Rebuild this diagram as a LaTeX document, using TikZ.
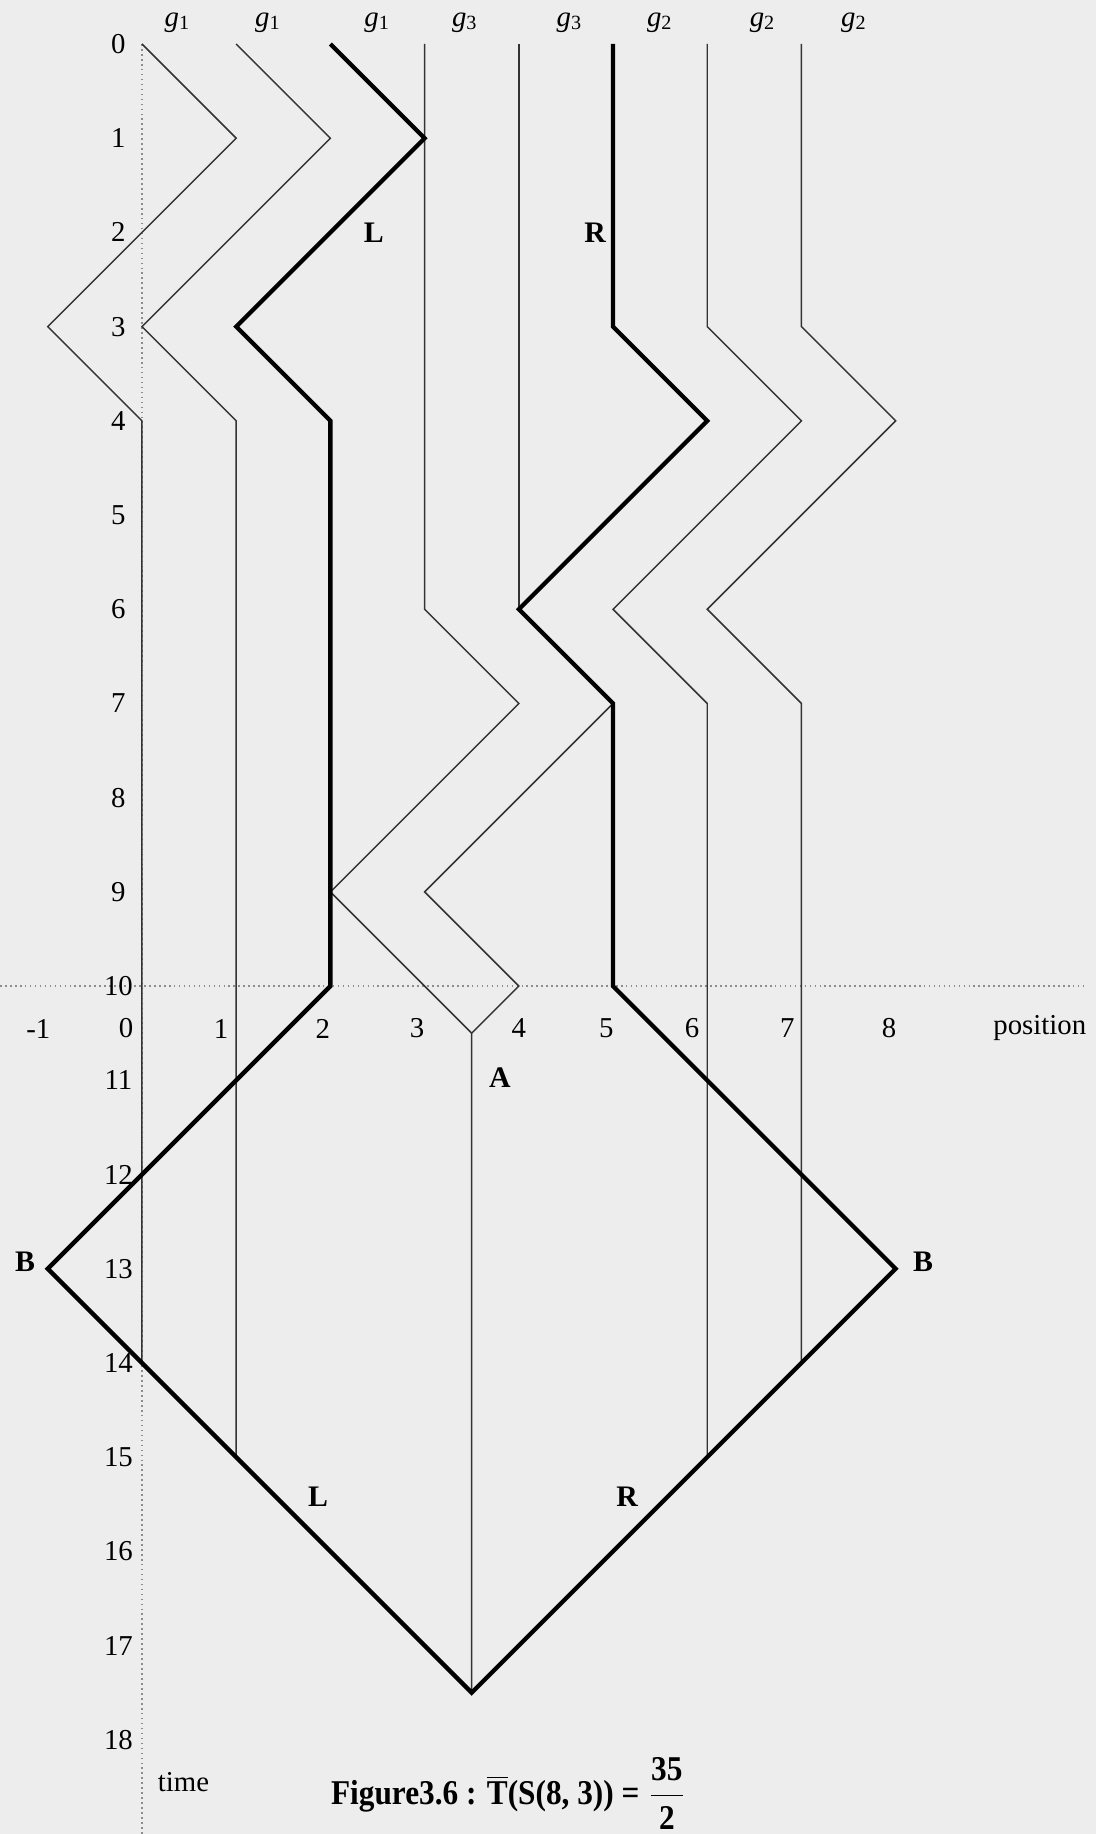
\documentclass[tikz,border=0pt]{standalone}
\usepackage{fontspec}
\setmainfont{Liberation Serif}
\newfontfamily\capfont{Liberation Serif}[FakeStretch=0.9]
\usepackage{tikz}
\usetikzlibrary{positioning}

\begin{document}
\begin{tikzpicture}[
  y=-1cm,
  thinpath/.style={draw=black!80, line width=0.45pt, line join=miter},
  thickpath/.style={draw=black, line width=1.3pt, line join=miter},
  axisline/.style={draw=black!45, dash pattern=on 0.5pt off 1pt, line width=0.4pt},
  tick/.style={font=\fontsize{8.7}{10}\selectfont, inner sep=0pt},
  tag/.style={font=\fontsize{9}{10}\selectfont\bfseries, inner sep=0pt},
]

% Background
\fill[black!7] (-1.507,-0.467) rectangle (10.127,19.0);
\useasboundingbox (-1.507,-0.467) rectangle (10.127,19.0);

% Axes
\draw[axisline] (0,0) -- (0,19.0);
\draw[axisline] (-1.507,10) -- (10.02,10);

% Time labels
\foreach \t in {0,...,18}
  \node[tick] (t\t) at (-0.25,\t) {\t};

% Position labels
\foreach \p/\x [count=\i] in {-1/-1.10, 0/-0.17, 1/0.84, 2/1.92, 3/2.92, 4/4.0, 5/4.93, 6/5.84, 7/6.85, 8/7.93}
  \node[tick] (p\i) at (\x,10.45) {\p};
\node[tick] (poslab) at (9.53,10.45) {position};
\node[tick] (timelab) at (0.44,18.45) {time};

% Particle types
\foreach \g/\x [count=\i] in {1/0.38, 1/1.34, 1/2.50, 3/3.43, 3/4.54, 2/5.50, 2/6.59, 2/7.56}
  \node[tick] (g\i) at (\x,-0.23) {\textit{g}\textsubscript{\g}};

% Thin world lines
\draw[thinpath] (0,0) -- (1,1) -- (-1,3) -- (0,4) -- (0,14);
\draw[thinpath] (1,0) -- (2,1) -- (0,3) -- (1,4) -- (1,15);
\draw[thinpath] (3,0) -- (3,6) -- (4,7) -- (2,9) -- (3.5,10.5);
\draw[thinpath] (4,0) -- (4,6);
\draw[thinpath] (5,7) -- (3,9) -- (4,10) -- (3.5,10.5) -- (3.5,17.5);
\draw[thinpath] (6,0) -- (6,3) -- (7,4) -- (5,6) -- (6,7) -- (6,15);
\draw[thinpath] (7,0) -- (7,3) -- (8,4) -- (6,6) -- (7,7) -- (7,14);

% Thick boundary
\draw[thickpath] (2,0) -- (3,1) -- (1,3) -- (2,4) -- (2,10) -- (-1,13) -- (3.5,17.5)
  -- (8,13) -- (5,10) -- (5,7) -- (4,6) -- (6,4) -- (5,3) -- (5,0);

% Region labels
\node[tag] (Ltop)   at (2.46,2)     {L};
\node[tag] (Rtop)   at (4.81,2)     {R};
\node[tag] (A)      at (3.80,10.97) {A};
\node[tag] (Bleft)  at (-1.24,12.93) {B};
\node[tag] (Bright) at (8.29,12.93) {B};
\node[tag] (Lbot)   at (1.87,15.42) {L};
\node[tag] (Rbot)   at (5.15,15.42) {R};

% Caption
\node[font=\fontsize{10.5}{12}\selectfont\capfont\bfseries, anchor=base west, inner sep=0pt] (caption) at (2.0,18.69)
  {Figure3.6 : $\overline{\hbox{T}}$(S(8, 3)) = $\displaystyle\frac{\hbox{35}}{\hbox{2}}$};

\end{tikzpicture}
\end{document}
